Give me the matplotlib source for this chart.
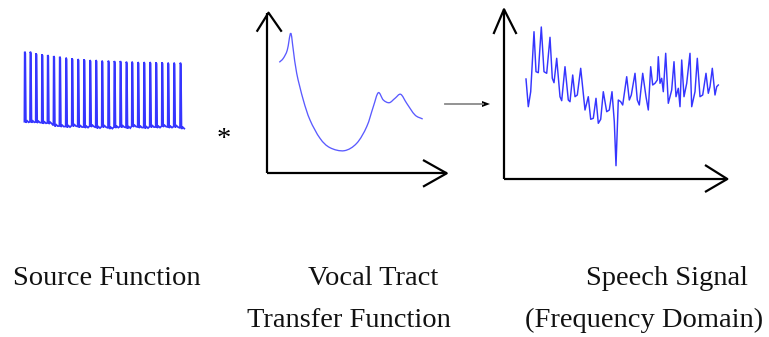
import numpy as np
import matplotlib.pyplot as plt
from matplotlib.patches import Polygon, PathPatch
from matplotlib.path import Path

# canvas units are pixels, y grows downward
W, H = 769, 337

# glottal pulse train: pulse positions, peak levels and floor levels
pulse_x = [24.7, 30.3, 36.0, 42.0, 47.7, 53.7, 59.7, 66.0, 72.0, 78.0, 84.0, 90.0, 96.0, 102.0,
           108.3, 114.3, 120.3, 126.3, 132.0, 138.0, 144.0, 150.0, 156.0, 162.0, 168.0, 174.0, 180.3]
pulse_top = [51.7, 51.7, 53.3, 54.3, 55.0, 56.0, 56.7, 57.7, 58.3, 59.0, 59.3, 60.0, 60.0, 60.7,
             60.7, 61.0, 61.0, 61.7, 61.7, 62.0, 62.0, 62.0, 62.3, 62.3, 62.7, 62.7, 62.7]
pulse_base = [121.7, 121.7, 122.0, 122.7, 123.0, 125.5, 126.0, 126.5, 125.5, 126.5, 127.0, 126.0, 127.5, 126.5,
              128.0, 127.0, 126.5, 127.5, 126.0, 127.0, 127.5, 126.5, 127.0, 126.0, 127.0, 126.5, 128.0]

# vocal tract transfer function envelope
tract_f = [279.3, 283.3, 287.3, 290.7, 293.3, 296.7, 303.3, 310.0, 320.0, 330.0, 344.3,
           356.7, 366.7, 373.3, 378.3, 383.3, 389.3, 395.0, 400.7, 406.7, 415.0, 422.7]
tract_a = [62.3, 58.3, 50.0, 33.3, 50.0, 73.3, 100.0, 120.0, 138.3, 147.7, 150.7,
           143.3, 126.7, 106.7, 92.7, 100.0, 102.7, 98.3, 94.3, 103.3, 115.0, 119.0]

# resulting speech spectrum
speech_f = [526.0, 528.3, 530.7, 534.0, 536.0, 538.3, 541.3, 544.0, 546.7, 550.0, 552.3, 554.0, 556.7, 560.0,
            561.7, 565.0, 568.3, 570.0, 572.7, 575.0, 577.3, 580.7, 585.0, 588.3, 590.7, 593.3, 596.0, 598.3,
            600.7, 603.3, 606.7, 609.3, 612.0, 614.3, 616.0, 618.3, 620.7, 622.7, 626.7, 629.3, 631.3, 635.0,
            637.3, 639.3, 642.7, 646.0, 648.3, 650.7, 652.7, 655.0, 657.3, 658.3, 660.0, 661.7, 663.3, 665.7,
            668.3, 670.0, 671.7, 674.0, 676.0, 678.3, 680.0, 681.7, 684.0, 686.7, 690.0, 691.7, 695.0, 697.3,
            700.0, 702.7, 706.0, 708.3, 710.0, 712.3, 715.0, 716.7, 718.3]
speech_a = [79.0, 106.7, 91.7, 31.7, 71.7, 72.7, 27.0, 71.7, 73.3, 37.3, 78.3, 82.7, 58.3, 96.7,
            100.7, 66.7, 100.0, 101.7, 75.0, 96.7, 95.0, 68.3, 110.0, 96.7, 119.3, 118.3, 98.3, 123.3,
            119.3, 91.7, 111.7, 110.0, 91.7, 121.7, 165.7, 100.0, 101.7, 105.0, 76.7, 100.0, 95.0, 73.3,
            100.0, 105.0, 73.3, 96.7, 110.0, 66.7, 85.0, 83.3, 80.0, 56.7, 83.3, 78.3, 91.7, 53.3,
            103.3, 96.7, 90.0, 61.7, 96.7, 88.3, 106.7, 60.0, 96.7, 83.3, 53.3, 106.7, 91.7, 58.3,
            96.7, 95.0, 73.3, 93.3, 86.7, 68.3, 95.0, 86.7, 85.0]

labels = [("Source Function", 13, 285), ("Vocal Tract", 308, 285), ("Transfer Function", 247, 327),
          ("Speech Signal", 586, 285), ("(Frequency Domain)", 525, 327)]

fig = plt.figure(figsize=(W / 100, H / 100), dpi=100)
ax = fig.add_axes([0, 0, 1, 1])
ax.set_xlim(0, W)
ax.set_ylim(H, 0)
ax.axis("off")

wave_col = "#3535ff"

# build the pulse train from each pulse's position, peak and floor
sx, sy = [], []
for x, top, base in zip(pulse_x, pulse_top, pulse_base):
    sx += [x - 0.3, x, x + 0.6, x + 1.2, x + 2.5, x + 4.0]
    sy += [base, top, top + 1.5, base + 1.0, base - 0.8, base + 0.6]
ax.plot(sx, sy, color=wave_col, lw=1.25, solid_joinstyle="miter")


def smooth_path(xs, ys):
    # cubic bezier through every point, tangents from the neighbours
    pts = np.column_stack([xs, ys])
    tang = np.gradient(pts, axis=0)
    verts, codes = [pts[0]], [Path.MOVETO]
    for i in range(len(pts) - 1):
        verts += [pts[i] + tang[i] / 3, pts[i + 1] - tang[i + 1] / 3, pts[i + 1]]
        codes += [Path.CURVE4] * 3
    return Path(verts, codes)


ax.add_patch(PathPatch(smooth_path(tract_f, tract_a), fill=False, edgecolor="#5a5aff", lw=0.95))
ax.plot(speech_f, speech_a, color=wave_col, lw=1.05)


def open_axes(x0, y0, top, right, arm_top, arm_right):
    kw = dict(color="black", lw=1.6, solid_capstyle="butt")
    ax.plot([x0, x0], [y0, top[1]], **kw)
    ax.plot([x0, right[0]], [y0, y0], **kw)
    ax.plot([arm_top[0], top[0], arm_top[1]], [arm_top[2], top[1], arm_top[2]], **kw)
    ax.plot([arm_right[0], right[0], arm_right[0]], [arm_right[1], right[1], arm_right[2]], **kw)


open_axes(267, 173.3, (268.5, 12.7), (446.7, 173.3), (256.7, 281.7, 31.7), (423, 160, 186.7))
open_axes(504, 179, (504, 9.3), (727.3, 179), (493.5, 516.5, 34), (705, 165, 192))

# small arrow between the middle and right panels
ax.plot([445, 483], [104, 104], color="#8a8a8a", lw=1.3)
ax.add_patch(Polygon([[482, 101], [490, 104], [482, 107]], closed=True, color="black", lw=0))

font = ["Liberation Serif", "DejaVu Serif"]
ax.text(223.5, 146, "*", family=font, fontsize=20.5, ha="center", va="baseline")
for txt, x, y in labels:
    ax.text(x, y, txt, family=font, fontsize=20.5, ha="left", va="baseline", color="#111111")

fig.savefig("out.png", dpi=100)
